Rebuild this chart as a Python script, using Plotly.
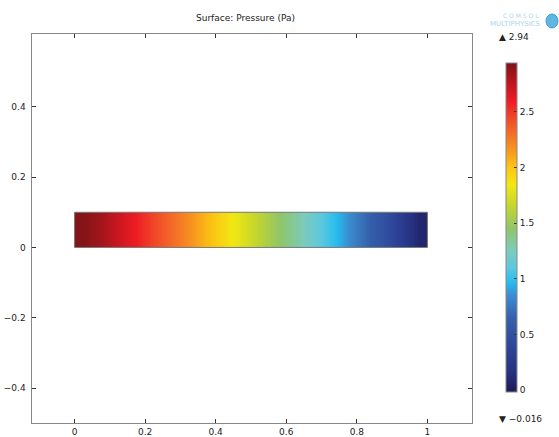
import plotly.graph_objects as go

# ---- data ----
x_centers = [0.025, 0.075, 0.125, 0.175, 0.225, 0.275, 0.325, 0.375, 0.425, 0.475,
             0.525, 0.575, 0.625, 0.675, 0.725, 0.775, 0.825, 0.875, 0.925, 0.975]
pressure = [2.92, 2.84, 2.72, 2.59, 2.45, 2.32, 2.18, 2.04, 1.91, 1.77,
            1.62, 1.47, 1.32, 1.17, 1.02, 0.86, 0.69, 0.51, 0.31, 0.08]
y_centers = [0.025, 0.075]
p_min = -0.016
p_max = 2.94
cb_ticks = [0, 0.5, 1, 1.5, 2, 2.5]
x_ticks = [0, 0.2, 0.4, 0.6, 0.8, 1]
y_ticks = [-0.4, -0.2, 0, 0.2, 0.4]
geom_x = [0, 1]
geom_y = [0, 0.1]
title_text = "Surface: Pressure (Pa)"

# COMSOL-like rainbow colormap (value -> color)
cmap_vals = [-0.016, 0.15, 0.4, 0.65, 0.85, 0.97, 1.1, 1.25, 1.45, 1.65, 1.85, 2.0, 2.15, 2.35, 2.6, 2.75, 2.94]
cmap_cols = ["#1c1a55", "#26307f", "#2e469a", "#3560aa", "#3b8ccf", "#27bdef", "#5cc8df",
             "#7ccbbd", "#8fc66a", "#c3d52f", "#f1e812", "#fcc513", "#f7981e", "#f26329",
             "#ed1c24", "#c3161f", "#7d1417"]
colorscale = [[(v - p_min) / (p_max - p_min), c] for v, c in zip(cmap_vals, cmap_cols)]
colorscale[0][0] = 0.0
colorscale[-1][0] = 1.0

W, H = 559, 437
FONT = "DejaVu Sans"

fig = go.Figure()
fig.add_trace(go.Heatmap(
    x=x_centers, y=y_centers, z=[pressure for _ in y_centers],
    zsmooth="best", colorscale=colorscale, zmin=p_min, zmax=p_max,
    colorbar=dict(
        x=506 / W, xanchor="left", xpad=0, ypad=0,
        y=1 - 392 / H, yanchor="bottom",
        len=329, lenmode="pixels", thickness=11, thicknessmode="pixels",
        outlinewidth=1, outlinecolor="#888888",
        tickvals=cb_ticks, ticktext=[f"{t:g}" for t in cb_ticks],
        ticks="inside", ticklen=3, tickcolor="#333333",
        tickfont=dict(family=FONT, size=9, color="#222222"),
    ),
    hoverinfo="skip",
))

fig.add_shape(type="rect", x0=geom_x[0], x1=geom_x[1], y0=geom_y[0], y1=geom_y[1],
              line=dict(color="#777777", width=1), layer="above")

axis_common = dict(showgrid=False, zeroline=False, showline=True, linecolor="#888888",
                   linewidth=1, mirror="ticks", ticks="inside", ticklen=4,
                   tickcolor="#333333", tickfont=dict(family=FONT, size=9, color="#222222"))
fig.update_layout(
    width=W, height=H,
    margin=dict(l=0, r=0, t=0, b=0),
    paper_bgcolor="white", plot_bgcolor="white",
    showlegend=False,
    xaxis=dict(range=[-0.122, 1.125], domain=[31.5 / W, 471.5 / W],
               tickvals=x_ticks, ticktext=[f"{t:g}" for t in x_ticks], **axis_common),
    yaxis=dict(range=[-0.5, 0.606], domain=[1 - 423.3 / H, 1 - 34.3 / H],
               tickvals=y_ticks, ticktext=[f"{t:g}".replace("-", "\u2212") for t in y_ticks],
               ticklabelstandoff=3, **axis_common),
)

ann = [
    dict(text=title_text, x=245 / W, y=1 - 18 / H, xanchor="center", yanchor="middle",
         font=dict(family=FONT, size=9, color="#222222")),
    dict(text="\u25b2 " + f"{p_max:g}", x=497 / W, y=1 - 37 / H, xanchor="left", yanchor="middle",
         font=dict(family=FONT, size=9, color="#222222")),
    dict(text="\u25bc \u2212" + f"{abs(p_min):g}", x=497 / W, y=1 - 419 / H, xanchor="left",
         yanchor="middle", font=dict(family=FONT, size=9, color="#222222")),
    dict(text="C O M S O L", x=541 / W, y=1 - 16 / H, xanchor="right", yanchor="middle",
         font=dict(family=FONT, size=6, color="#a9d6ea")),
    dict(text="MULTIPHYSICS", x=543 / W, y=1 - 24 / H, xanchor="right", yanchor="middle",
         font=dict(family=FONT, size=7, color="#a9d6ea")),
]
for a in ann:
    a.update(xref="paper", yref="paper", showarrow=False)
fig.update_layout(annotations=ann)

# small logo mark
fig.add_shape(type="circle", xref="paper", yref="paper",
              x0=546 / W, x1=558 / W, y0=1 - 28 / H, y1=1 - 14 / H,
              fillcolor="#5fb6e2", line=dict(color="#3d9bd0", width=1))

fig.write_html(
    "out.html",
    config={"displayModeBar": False, "staticPlot": True},
    post_script="document.body.style.margin='0';document.body.style.padding='0';"
                "document.body.style.overflow='hidden';",
)
